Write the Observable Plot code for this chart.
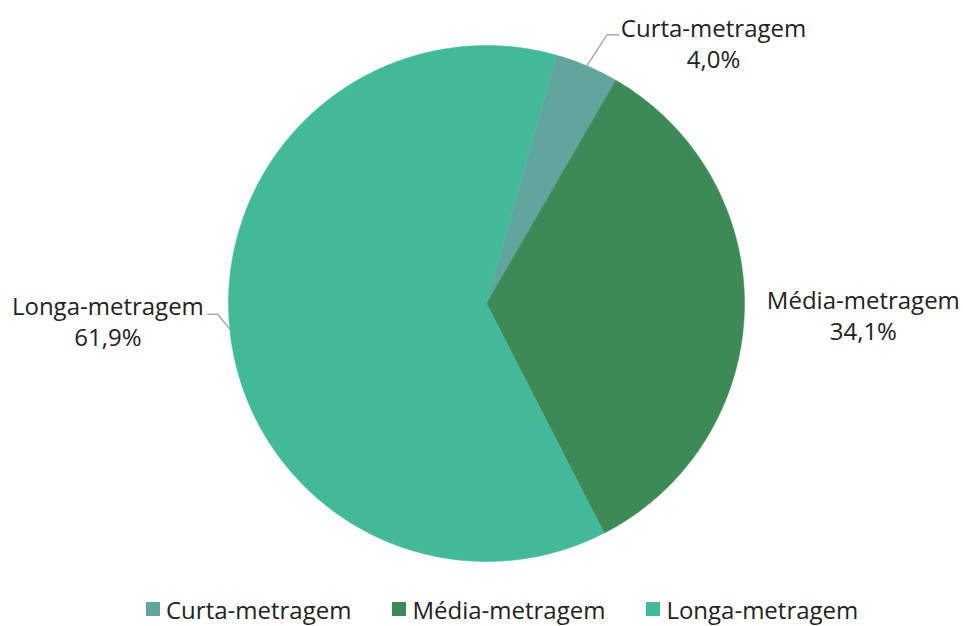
<!DOCTYPE html>
<html>
<head>
<meta charset="utf-8">
<script src="https://cdn.jsdelivr.net/npm/d3@7"></script>
<script src="https://cdn.jsdelivr.net/npm/@observablehq/plot@0.6"></script>
<style>
  html, body { margin: 0; padding: 0; background: #fff; }
  body { width: 963px; height: 626px; overflow: hidden; font-family: "Open Sans", sans-serif; color: #222; }
  #legend { display: flex; align-items: center; height: 38px; padding-left: 146px; font-size: 24px; }
  .item { display: flex; align-items: center; margin-right: 41px; }
  .sw { width: 14px; height: 14px; margin-right: 6px; }
</style>
</head>
<body>
<div id="chart"></div>
<div id="legend"></div>
<script>
const categories = ["Curta-metragem", "Média-metragem", "Longa-metragem"];
const values = [4.0, 34.1, 61.9];
const valueLabels = ["4,0%", "34,1%", "61,9%"];
const colors = ["#62a59f", "#3e8a56", "#42b999"];

const W = 963, H = 590;
const R = 258, cx = 486, cy = 303;
const startDeg = 15.7;
const total = d3.sum(values);

// slice polygons in unit coordinates (radius 1), angle clockwise from top
const polys = [];
let acc = startDeg;
const mids = [];
values.forEach((v, i) => {
  const span = v / total * 360;
  const a0 = acc, a1 = acc + span;
  mids.push((a0 + a1) / 2);
  polys.push({cat: categories[i], x: 0, y: 0});
  const n = Math.max(2, Math.ceil(span / 0.5));
  for (let k = 0; k <= n; k++) {
    const a = (a0 + (a1 - a0) * k / n) * Math.PI / 180;
    polys.push({cat: categories[i], x: Math.sin(a), y: Math.cos(a)});
  }
  polys.push({cat: categories[i], x: 0, y: 0});
  acc = a1;
});

const P = (r, deg) => ({x: r * Math.sin(deg * Math.PI / 180), y: r * Math.cos(deg * Math.PI / 180)});

// labels: placed by polar position
const labelPos = [P(346 / R, 41), P(377 / R, 91.7), P(379 / R, 267.4)];
const labels = categories.map((c, i) => ({text: c + "\n" + valueLabels[i], ...labelPos[i]}));

// leader lines
const e0 = P(1, mids[0]);
const e2 = P(1, mids[2]);
const leaders = [
  {g: 0, ...e0},
  {g: 0, x: e0.x + 20 / R, y: e0.y + 31 / R},
  {g: 0, x: e0.x + 32 / R, y: e0.y + 31 / R},
  {g: 2, ...e2},
  {g: 2, x: e2.x - 12 / R, y: e2.y + 15 / R},
  {g: 2, x: e2.x - 22 / R, y: e2.y + 15 / R}
];

const chart = Plot.plot({
  width: W, height: H,
  margin: 0,
  x: {domain: [-cx / R, (W - cx) / R], axis: null},
  y: {domain: [-(H - cy) / R, cy / R], axis: null},
  color: {domain: categories, range: colors},
  style: {fontFamily: "Open Sans, sans-serif", background: "#fff"},
  marks: [
    Plot.line(polys, {x: "x", y: "y", z: "cat", fill: "cat", stroke: "cat", strokeWidth: 0.5, curve: "linear"}),
    Plot.line(leaders, {x: "x", y: "y", z: "g", stroke: "#aaaaaa", strokeWidth: 1.5}),
    Plot.text(labels, {x: "x", y: "y", text: "text", fontSize: 24, fill: "#222", lineHeight: 1.3, textAnchor: "middle"})
  ]
});
document.getElementById("chart").appendChild(chart);

const leg = document.getElementById("legend");
categories.forEach((c, i) => {
  const it = document.createElement("div");
  it.className = "item";
  it.innerHTML = `<div class="sw" style="background:${colors[i]}"></div><span>${c}</span>`;
  leg.appendChild(it);
});
</script>
</body>
</html>
